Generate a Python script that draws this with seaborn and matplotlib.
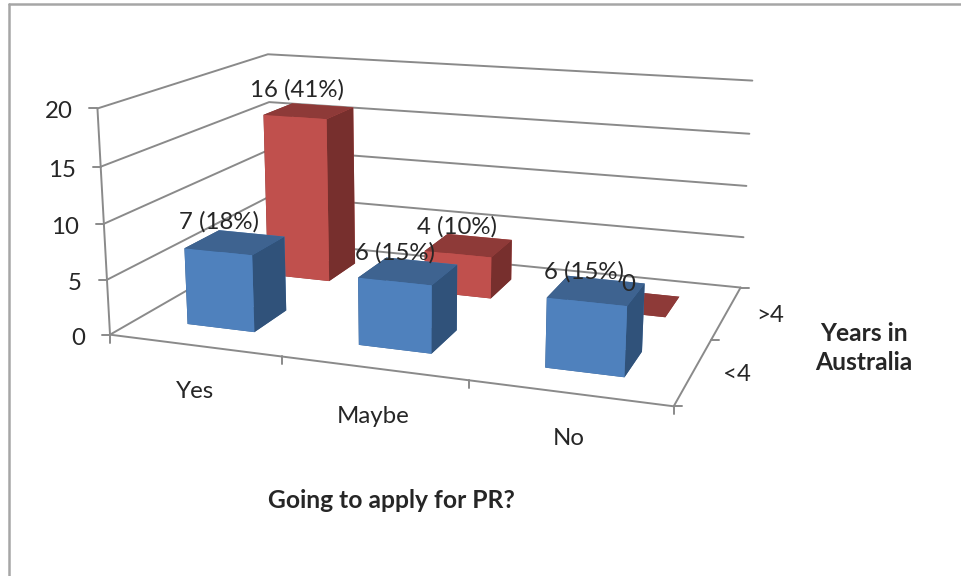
import numpy as np
import matplotlib
matplotlib.use("Agg")
import matplotlib.pyplot as plt
from matplotlib.lines import Line2D
import seaborn as sns

# Survey counts, one list per series, in category order
categories = ["Yes", "Maybe", "No"]
series_names = ["<4", ">4"]
under_four = [7, 6, 6]
over_four = [16, 4, 0]
under_four_labels = ["7 (18%)", "6 (15%)", "6 (15%)"]
over_four_labels = ["16 (41%)", "4 (10%)", "0"]
value_ticks = [0, 5, 10, 15, 20]

W, H = 962, 576
BAR_GAP = 0.3   # gap on each side of a bar, in category units

sns.set_theme(style="white")
plt.rcParams["font.family"] = ["Lato", "DejaVu Sans"]

# Perspective camera: world points (category, depth, value) and the canvas
# pixels they land on; a least-squares fit gives the 3x4 projection matrix.
world = np.array([
    (0, 0, 0), (1, 0, 0), (2, 0, 0), (3, 0, 0), (3, 1, 0), (3, 2, 0), (0, 2, 0),
    (0, 0, 5), (0, 0, 10), (0, 0, 15), (0, 0, 20), (0, 2, 15), (0, 2, 20),
    (3, 2, 5), (3, 2, 10), (3, 2, 15), (3, 2, 20),
], float)
canvas = np.array([
    (110, 335), (281.7, 358), (468, 381.7), (673.3, 405.7), (711.7, 339),
    (740, 287.3), (273, 241),
    (106.7, 279), (105, 223), (101, 166), (97, 108.7), (268.7, 102.3), (267.7, 54.3),
    (743.7, 237), (746.7, 186), (749.5, 134), (752.3, 81),
], float)


def fit_camera(points, pixels):
    rows = []
    for (x, y, z), (u, v) in zip(points, pixels):
        rows.append([x, y, z, 1, 0, 0, 0, 0, -u * x, -u * y, -u * z, -u])
        rows.append([0, 0, 0, 0, x, y, z, 1, -v * x, -v * y, -v * z, -v])
    p = np.linalg.svd(np.array(rows))[2][-1].reshape(3, 4)
    return p if (p[2] @ np.array([1.5, 1, 5, 1])) > 0 else -p


P = fit_camera(world, canvas)
w_mid = P[2] @ np.array([1.5, 1, 5, 1])
P = P / w_mid
M = np.vstack([P[0], P[1], P[2] - np.array([0, 0, 0, 0.5]), P[2]])


def project(x, y, z):
    u, v, w = P @ np.array([x, y, z, 1.0])
    return u / w, v / w


fig = plt.figure(figsize=(W / 100, H / 100), dpi=100, facecolor="white")
ax = fig.add_axes([0, 0, 1, 1], projection="3d")
ax.set_proj_type("ortho")   # no line clipping; the matrix below sets the perspective
ax.get_proj = lambda: M
ax.apply_aspect = lambda position=None: None
ax.set_axis_off()
ax.patch.set_visible(False)
ax.computed_zorder = False
ax.viewLim.intervalx = (0, W)
ax.viewLim.intervaly = (H, 0)

GRID = "#8a8a8a"
INK = "#262626"
LINE_W = 1.4
TEXT_SIZE = 17.3
TITLE_SIZE = 17.7

# Outer chart border: only the top and left edges show
for xs, ys in [((9.5, 9.5), (576, 4)), ((9.5, 962), (4, 4))]:
    ax.add_artist(Line2D(xs, ys, color="#a6a6a6", lw=1.8, transform=ax.transData, zorder=0))

# Walls and floor
for v in value_ticks:
    ax.plot([0, 0, 3], [0, 2, 2], [v, v, v], color=GRID, lw=LINE_W, zorder=1)
ax.plot([0, 0], [0, 0], [0, 20], color=GRID, lw=LINE_W, zorder=1)
ax.plot([0, 3, 3], [0, 0, 2], [0, 0, 0], color=GRID, lw=LINE_W, zorder=1)


def tick(x, y, z, dx, dy):
    u, v = project(x, y, z)
    ax.add_artist(Line2D((u, u + dx), (v, v + dy), color=GRID, lw=LINE_W,
                         transform=ax.transData, zorder=1))


for v in value_ticks:
    tick(0, 0, v, -8, 0)
for i in range(len(categories) + 1):
    tick(i, 0, 0, 0, 8)
for j in range(len(series_names) + 1):
    tick(3, j, 0, 8, 0)

# Each bar: shades for bottom, top, front, back, left, right faces
blue_front, blue_top, blue_side = sns.color_palette(["#4f81bd", "#3e6390", "#30527a"])
red_front, red_top, red_side = sns.color_palette(["#c0504d", "#8e3a38", "#772f2d"])


def faces(front, top, side):
    return [top, top, front, front, side, side]


depth_rows = [
    (1, over_four, faces(red_front, red_top, red_side)),
    (0, under_four, faces(blue_front, blue_top, blue_side)),
]
z = 2
for row, values, colors in depth_rows:
    for i, v in enumerate(values):
        ax.bar3d(i + BAR_GAP, row + BAR_GAP, 0, 1 - 2 * BAR_GAP, 1 - 2 * BAR_GAP, v,
                 color=colors, shade=False, linewidth=0, zorder=z)
        z += 1


def note(text, at, off, **kw):
    kw.setdefault("ha", "center")
    kw.setdefault("fontsize", TEXT_SIZE)
    ax.annotate(text, xy=project(*at), xytext=off, textcoords="offset pixels",
                va="center", color=INK, zorder=50, annotation_clip=False, **kw)


# Value labels above the bars
under_off = [(-16, 21), (-13, 18), (-12, 19)]
over_off = [(-12, 21), (-12, 19), (-9, 19)]
for i, (v, t, off) in enumerate(zip(under_four, under_four_labels, under_off)):
    note(t, (i + 0.5, 0.5, v), off)
for i, (v, t, off) in enumerate(zip(over_four, over_four_labels, over_off)):
    note(t, (i + 0.5, 1.5, v), off)

# Tick labels
for v in value_ticks:
    note(str(v), (0, 0, v), (-25, -3.5), ha="right")
category_off = [(1, -46), (0, -48), (0, -46)]
for i, (c, off) in enumerate(zip(categories, category_off)):
    note(c, (i + 0.5, 0, 0), off)
for j, s in enumerate(series_names):
    note(s, (3, j + 0.5, 0), (44, -3))

# Axis titles
ax.text2D(391, 501, "Going to apply for PR?", transform=ax.transData, ha="center",
          va="center", fontsize=TITLE_SIZE, fontweight="bold", color=INK, zorder=50)
ax.text2D(864, 348, "Years in\nAustralia", transform=ax.transData, ha="center",
          va="center", fontsize=TITLE_SIZE, fontweight="bold", color=INK, linespacing=1.35, zorder=50)

fig.savefig("out.png", dpi=100)
